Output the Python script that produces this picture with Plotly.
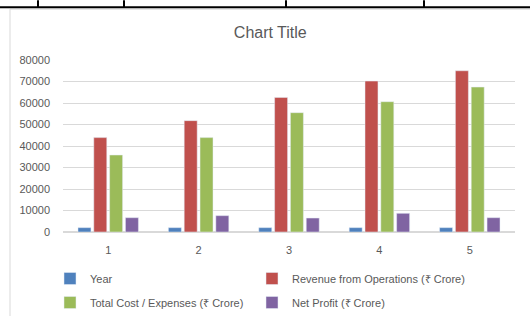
import plotly.graph_objects as go

categories = ["1", "2", "3", "4", "5"]
year = [2019, 2020, 2021, 2022, 2023]
revenue = [43900, 51800, 62600, 70200, 75000]
total_cost = [35800, 43900, 55500, 60600, 67400]
net_profit = [6650, 7600, 6500, 8700, 6650]
y_ticks = [0, 10000, 20000, 30000, 40000, 50000, 60000, 70000, 80000]

W, H = 530, 316
L, R, T, B = 63, 15, 60, 83.5
pw = W - L - R
ph = H - T - B

def px(x):
    return (x - L) / pw

def py(y):
    return (H - B - y) / ph

FONT = "Liberation Sans"
GRAY = "#595959"

fig = go.Figure()
fig.add_bar(x=categories, y=year, name="Year", marker_color="#4F81BD",
            legend="legend", legendgroup="a", legendrank=1)
fig.add_bar(x=categories, y=revenue, name="Revenue from Operations (₹ Crore)", marker_color="#C0504D",
            legend="legend2", legendgroup="b", legendrank=1)
fig.add_bar(x=categories, y=total_cost, name="Total Cost / Expenses (₹ Crore)", marker_color="#9BBB59",
            legend="legend", legendgroup="c", legendrank=2)
fig.add_bar(x=categories, y=net_profit, name="Net Profit (₹ Crore)", marker_color="#8064A2",
            legend="legend2", legendgroup="d", legendrank=2)

shapes = [
    dict(type="rect", xref="paper", yref="paper", x0=px(10), x1=px(540), y0=py(9), y1=py(330),
         line=dict(color="#d9d9d9", width=1), fillcolor="rgba(0,0,0,0)", layer="below"),
    dict(type="line", xref="paper", yref="paper", x0=px(0), x1=px(530), y0=py(7), y1=py(7),
         line=dict(color="black", width=2)),
]
for vx in [38, 124, 286, 424]:
    shapes.append(dict(type="line", xref="paper", yref="paper", x0=px(vx), x1=px(vx), y0=py(0), y1=py(7),
                       line=dict(color="black", width=2)))

leg_common = dict(orientation="v", xref="container", yref="container", xanchor="left", yanchor="top",
                  tracegroupgap=5, font=dict(family=FONT, size=11, color=GRAY), itemclick=False,
                  bgcolor="rgba(0,0,0,0)")

fig.update_layout(
    width=W, height=H,
    margin=dict(l=L, r=R, t=T, b=B, autoexpand=False),
    paper_bgcolor="white", plot_bgcolor="white",
    font=dict(family=FONT, size=11, color=GRAY),
    title=dict(text="Chart Title", x=0.51, xanchor="center", y=1 - 32 / H, yanchor="middle",
               yref="container", font=dict(family=FONT, size=16, color=GRAY)),
    barmode="group", bargap=0.3, bargroupgap=0.18,
    showlegend=True,
    legend=dict(x=50 / W, y=1 - 264 / H, **leg_common),
    legend2=dict(x=252 / W, y=1 - 264 / H, **leg_common),
    shapes=shapes,
)
fig.update_yaxes(range=[0, 80000], tickvals=y_ticks, ticktext=[str(v) for v in y_ticks],
                 showgrid=True, gridcolor="#d9d9d9", gridwidth=1, zeroline=True, zerolinecolor="#d9d9d9",
                 showline=False, ticks="", ticklabelstandoff=12, tickfont=dict(color=GRAY, size=11))
fig.update_xaxes(showgrid=False, showline=False, ticks="", ticklabelstandoff=10,
                 tickfont=dict(color=GRAY, size=11))

fig.write_html("out.html", config={"displayModeBar": False},
               post_script="document.body.style.margin='0';document.body.style.overflow='hidden';")
